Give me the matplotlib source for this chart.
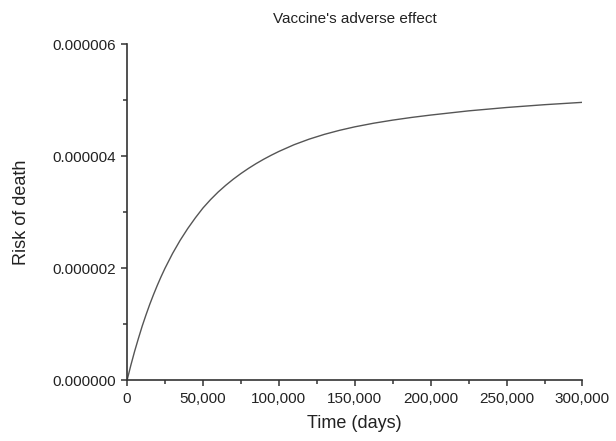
import matplotlib
matplotlib.use("Agg")
import matplotlib.pyplot as plt
from matplotlib.ticker import FuncFormatter, MultipleLocator

# values
days = [0, 2500, 5000, 7500, 10000, 12500, 15000, 17500, 20000, 22500,
        25000, 30000, 35000, 40000, 45000, 50000, 55000, 60000, 65000,
        70000, 75000, 80000, 85000, 90000, 95000, 100000, 110000, 120000,
        130000, 140000, 150000, 162500, 175000, 187500, 200000, 225000,
        250000, 275000, 300000]
risk = [0.0, 0.27e-6, 0.52e-6, 0.75e-6, 0.97e-6, 1.17e-6, 1.36e-6, 1.535e-6,
        1.70e-6, 1.855e-6, 2.00e-6, 2.265e-6, 2.50e-6, 2.71e-6, 2.90e-6,
        3.075e-6, 3.225e-6, 3.36e-6, 3.48e-6, 3.59e-6, 3.69e-6, 3.782e-6,
        3.867e-6, 3.945e-6, 4.017e-6, 4.084e-6, 4.204e-6, 4.304e-6, 4.389e-6,
        4.461e-6, 4.523e-6, 4.588e-6, 4.643e-6, 4.691e-6, 4.733e-6, 4.808e-6,
        4.868e-6, 4.918e-6, 4.96e-6]

plt.rcParams['font.family'] = ['Liberation Sans', 'DejaVu Sans']

fig = plt.figure(figsize=(6.16, 4.41), dpi=100)
ax = fig.add_axes([0.2062, 0.1372, 0.7394, 0.763])

ax.plot(days, risk, color='#555555', linewidth=1.0)

ax.set_xlim(0, 300000)
ax.set_ylim(0, 6e-6)

ax.xaxis.set_major_locator(MultipleLocator(50000))
ax.xaxis.set_minor_locator(MultipleLocator(25000))
ax.yaxis.set_major_locator(MultipleLocator(2e-6))
ax.yaxis.set_minor_locator(MultipleLocator(1e-6))
ax.xaxis.set_major_formatter(FuncFormatter(lambda v, p: f"{v:,.0f}"))
ax.yaxis.set_major_formatter(FuncFormatter(lambda v, p: f"{v:.6f}"))

for side in ['top', 'right']:
    ax.spines[side].set_visible(False)
for side in ['left', 'bottom']:
    ax.spines[side].set_color('#333333')
    ax.spines[side].set_linewidth(1.2)

ax.tick_params(which='major', direction='out', length=4, width=1.1,
               color='#333333', labelsize=11, labelcolor='#222222', pad=4)
ax.tick_params(which='minor', direction='out', length=3, width=1.1,
               color='#333333')

ax.set_title("Vaccine's adverse effect", fontsize=11, color='#222222', pad=15)
ax.set_xlabel('Time (days)', fontsize=13, color='#222222', labelpad=7)
ax.set_ylabel('Risk of death', fontsize=13, color='#222222', labelpad=16)

fig.savefig('out.png', dpi=100, facecolor='white')
